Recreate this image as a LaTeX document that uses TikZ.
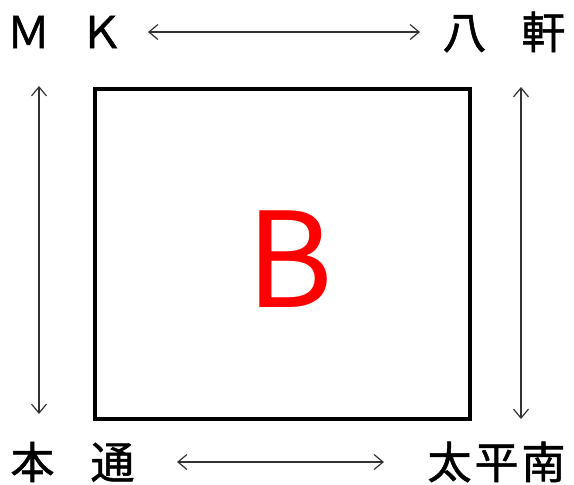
\documentclass[tikz,border=0pt]{standalone}
\usepackage{fontspec}
\newfontfamily\jpfont{Noto Sans CJK JP}
\newfontfamily\jpboldfont[FakeBold=1.2]{Noto Sans CJK JP}
\usetikzlibrary{arrows.meta}

\begin{document}
\begin{tikzpicture}[x=1pt,y=-1pt,
  place/.style={inner sep=0pt, outer sep=0pt, font=\jpboldfont\fontsize{44pt}{44pt}\selectfont},
  link/.style={{Straight Barb[length=9pt,width=15pt]}-{Straight Barb[length=9pt,width=15pt]}, line width=1.2pt, draw=black!80}]
\useasboundingbox (0,0) rectangle (574,485);
\node[draw, line width=4pt, inner sep=0pt, outer sep=0pt, minimum width=375pt, minimum height=330pt] (block) at (282.5,254) {};
\node[inner sep=0pt, text=red, font=\jpfont\fontsize{132pt}{132pt}\selectfont] (blockname) at (290,259.5) {B};
\node[place] (mk) at (65,32) {Ｍ\hspace{29pt}Ｋ};
\node[place] (hachiken) at (504,32) {八\hspace{35pt}軒};
\node[place] (hondori) at (72.5,462) {本\hspace{36pt}通};
\node[place] (taihei) at (496.5,462) {太\hspace{3pt}平\hspace{3pt}南};

\draw[link, shorten <=24.5pt, shorten >=22.5pt] (mk) -- (hachiken);
\draw[link, shorten <=42.5pt, shorten >=43.5pt] (hondori) -- (taihei);
\draw[link] ([xshift=-56pt,yshift=3pt]block.north west) -- ([xshift=-56pt,yshift=5pt]block.south west);
\draw[link] ([xshift=51pt,yshift=2pt]block.north east) -- ([xshift=51pt]block.south east);
\end{tikzpicture}
\end{document}
